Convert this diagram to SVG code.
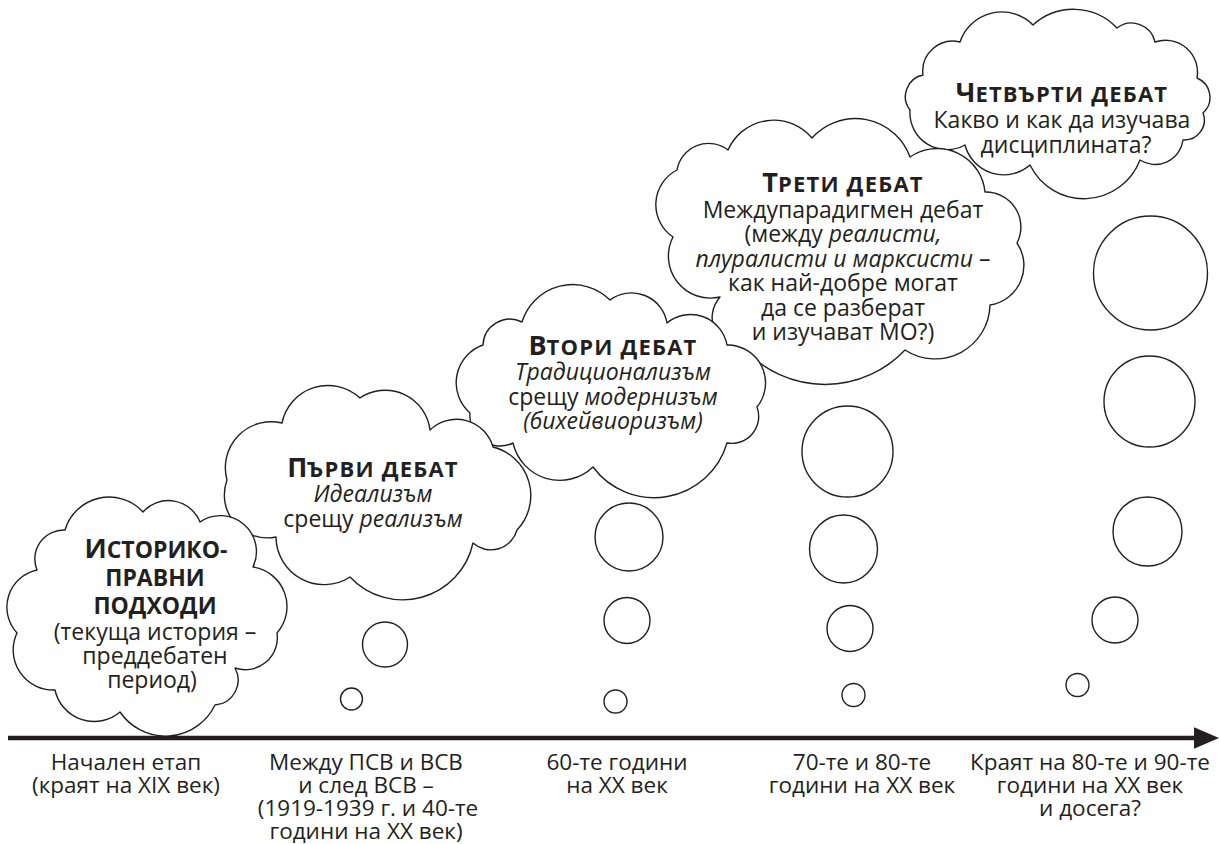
<svg xmlns="http://www.w3.org/2000/svg" width="1219" height="844" viewBox="0 0 1219 844">
<style>
.cl{fill:#fff;stroke:#231f20;stroke-width:1.4;stroke-linejoin:round}
.bb{fill:#fff;stroke:#231f20;stroke-width:1.4}
text{font-family:"Open Sans","Noto Sans",sans-serif;fill:#231f20;text-anchor:middle}
.t{font-size:23px}
.i{font-style:italic}
.h{font-weight:700}
.cap{font-size:27px}
.sc{font-size:22px;letter-spacing:1.2px}
.sc1{font-size:23px}
.lbl{font-size:22.5px}
</style>
<defs>
<marker id="ah" markerWidth="6" markerHeight="6" refX="0" refY="3" orient="auto" markerUnits="strokeWidth">
<path d="M0,0.6 L5.6,3 L0,5.4 Z" fill="#231f20"/>
</marker>
</defs>
<rect width="1219" height="844" fill="#fff"/>

<g id="connectors">
<line x1="8" y1="738" x2="1194" y2="738" stroke="#231f20" stroke-width="4.5" marker-end="url(#ah)"/>
</g>

<g id="cloud-debate4">
<path class="cl" d="M923,75 A30,30 0 0 1 960,42 A44,44 0 0 1 1033,25 A60,60 0 0 1 1117,28 A24,24 0 0 1 1155,42 A32,32 0 0 1 1197,78 A21,21 0 0 1 1203,113 A20,20 0 0 1 1183,140 A28,28 0 0 1 1140,160 A60,60 0 0 1 1030,165 A40,40 0 0 1 965,145 A37,37 0 0 1 910,110 A22,22 0 0 1 923,75 Z"/>
<circle class="bb" cx="1150.5" cy="273" r="57"/>
<circle class="bb" cx="1149.5" cy="401.5" r="45.5"/>
<circle class="bb" cx="1147.5" cy="531.5" r="34.5"/>
<circle class="bb" cx="1115" cy="620" r="23"/>
<circle class="bb" cx="1077.5" cy="685" r="11.5"/>
<text class="h" x="1062" y="102"><tspan class="cap">Ч</tspan><tspan class="sc">ЕТВЪРТИ ДЕБАТ</tspan></text>
<text class="t" x="1062" y="128">Какво и как да изучава</text>
<text class="t" x="1066" y="153">дисциплината?</text>
</g>

<g id="cloud-debate3">
<path class="cl" d="M677,170 A32,32 0 0 1 728,150 A50,50 0 0 1 812,138 A58,58 0 0 1 910,157 A48,48 0 0 1 985,192 A35,35 0 0 1 1017,243 A40,40 0 0 1 990,305 A55,55 0 0 1 905,350 A110,110 0 0 1 745,350 A32,32 0 0 1 720,297 A42,42 0 0 1 673,237 A39,39 0 0 1 677,170 Z"/>
<circle class="bb" cx="847.5" cy="451.5" r="45.5"/>
<circle class="bb" cx="843.5" cy="549" r="34"/>
<circle class="bb" cx="850" cy="628.5" r="23"/>
<circle class="bb" cx="853.5" cy="695" r="11.5"/>
<text class="h" x="843" y="192"><tspan class="cap">Т</tspan><tspan class="sc">РЕТИ ДЕБАТ</tspan></text>
<text class="t" x="843" y="218">Междупарадигмен дебат</text>
<text class="t" x="843" y="242">(между <tspan class="i">реалисти,</tspan></text>
<text class="t" x="843" y="267"><tspan class="i">плуралисти и марксисти</tspan> –</text>
<text class="t" x="843" y="291">как най-добре могат</text>
<text class="t" x="843" y="316">да се разберат</text>
<text class="t" x="843" y="340">и изучават МО?)</text>
</g>

<g id="cloud-debate2">
<path class="cl" d="M483,345 A27,27 0 0 1 522,322 A53,53 0 0 1 610,300 A36,36 0 0 1 667,323 A37,37 0 0 1 727,345 A38,38 0 0 1 757,407 A27,27 0 0 1 727,443 A76,76 0 0 1 593,467 A48,48 0 0 1 513,443 A30,30 0 0 1 470,413 A40,40 0 0 1 483,345 Z"/>
<circle class="bb" cx="629" cy="537" r="34"/>
<circle class="bb" cx="627" cy="620.5" r="23"/>
<circle class="bb" cx="615.5" cy="701.5" r="11.5"/>
<text class="h" x="613" y="355"><tspan class="cap">В</tspan><tspan class="sc">ТОРИ ДЕБАТ</tspan></text>
<text class="t i" x="613" y="380">Традиционализъм</text>
<text class="t" x="613" y="405">срещу <tspan class="i">модернизъм</tspan></text>
<text class="t i" x="613" y="429">(бихейвиоризъм)</text>
</g>

<g id="cloud-debate1">
<path class="cl" d="M282,423 A47,47 0 0 1 360,398 A45,45 0 0 1 430,430 A38,38 0 0 1 493,447 A50,50 0 0 1 517,530 A27,27 0 0 1 473,543 A72,72 0 0 1 350,577 A48,48 0 0 1 276,537 A43,43 0 0 1 227,480 A46,46 0 0 1 282,423 Z"/>
<circle class="bb" cx="385" cy="644.5" r="22.5"/>
<circle class="bb" cx="351.5" cy="699" r="11"/>
<text class="h" x="373" y="477"><tspan class="cap">П</tspan><tspan class="sc">ЪРВИ ДЕБАТ</tspan></text>
<text class="t i" x="373" y="502">Идеализъм</text>
<text class="t" x="373" y="527">срещу <tspan class="i">реализъм</tspan></text>
</g>

<g id="cloud-historical-legal">
<path class="cl" d="M37,570 A29,29 0 0 1 65,530 A46,46 0 0 1 143,512 A34,34 0 0 1 200,522 A36,36 0 0 1 253,567 A40,40 0 0 1 277,633 A32,32 0 0 1 235,668 A25,25 0 0 1 215,705 A55,55 0 0 1 120,712 A40,40 0 0 1 55,690 A40,40 0 0 1 17,633 A38,38 0 0 1 37,570 Z"/>
<text class="h" x="156" y="558"><tspan class="cap">И</tspan><tspan class="sc1">СТОРИКО-</tspan></text>
<text class="h sc1" x="155" y="586">ПРАВНИ</text>
<text class="h sc1" x="155" y="614">ПОДХОДИ</text>
<text class="t" x="155" y="640">(текуща история –</text>
<text class="t" x="155" y="664">преддебатен</text>
<text class="t" x="152" y="688">период)</text>
</g>

<g id="labels">
<text class="lbl" x="126" y="770">Начален етап</text>
<text class="lbl" x="126" y="793">(краят на XIX век)</text>
<text class="lbl" x="366" y="770">Между ПСВ и ВСВ</text>
<text class="lbl" x="366" y="793">и след ВСВ –</text>
<text class="lbl" x="368" y="816">(1919-1939 г. и 40-те</text>
<text class="lbl" x="366" y="839">години на XX век)</text>
<text class="lbl" x="617" y="770">60-те години</text>
<text class="lbl" x="617" y="793">на XX век</text>
<text class="lbl" x="862" y="770">70-те и 80-те</text>
<text class="lbl" x="862" y="793">години на XX век</text>
<text class="lbl" x="1090" y="770">Краят на 80-те и 90-те</text>
<text class="lbl" x="1090" y="793">години на XX век</text>
<text class="lbl" x="1090" y="816">и досега?</text>
</g>
</svg>
